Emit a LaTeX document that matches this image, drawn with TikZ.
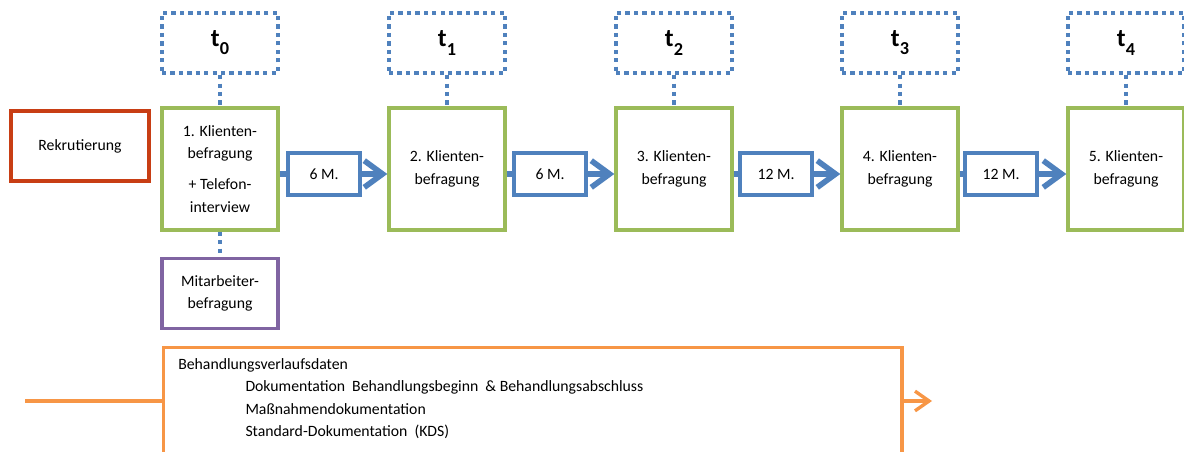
\documentclass[tikz,border=0pt]{standalone}
\usepackage{fontspec}
\setmainfont{Carlito}
\usepackage{tikz}
\usetikzlibrary{positioning, arrows.meta}

\definecolor{rot}{RGB}{200,62,20}
\definecolor{gruen}{RGB}{155,187,89}
\definecolor{blau}{RGB}{79,129,189}
\definecolor{lila}{RGB}{128,100,162}
\definecolor{orangeton}{RGB}{247,150,70}

\newcommand{\tindex}[1]{t\raisebox{-6pt}{\fontsize{13}{13}\selectfont #1}}

\begin{document}
\begin{tikzpicture}[
    x=0.025cm, y=-0.025cm,
    font=\fontsize{11.2}{16}\selectfont,
    box/.style={rectangle, draw, line width=2.4pt, align=center},
    befragung/.style={box, draw=gruen, minimum width=2.9cm, minimum height=3.05cm},
    zeitpunkt/.style={box, draw=blau, line width=3.2pt, dash pattern=on 3pt off 3pt, minimum width=2.9cm, minimum height=1.5cm, font=\fontsize{18}{20}\selectfont\bfseries},
    abstand/.style={box, draw=blau, minimum width=1.8cm, minimum height=1.05cm},
    punktlinie/.style={draw=blau, line width=3.2pt, dash pattern=on 3pt off 3pt},
    pfeil/.style={draw=blau, line width=4pt},
    verlaufslinie/.style={draw=orangeton, line width=2.4pt}
]
\useasboundingbox (0,0) rectangle (1184,452);

% Rekrutierung
\node[box, draw=rot, line width=3pt, minimum width=3.45cm, minimum height=1.75cm] (rekrutierung) at (80,146) {Rekrutierung};

% Befragungen
\node[befragung] (befragung1) at (220,169) {1. Klienten-\\befragung\\[6pt]+ Telefon-\\interview};
\node[befragung] (befragung2) at (447,169) {2. Klienten-\\befragung};
\node[befragung] (befragung3) at (674,169) {3. Klienten-\\befragung};
\node[befragung] (befragung4) at (900,169) {4. Klienten-\\befragung};
\node[befragung] (befragung5) at (1126,169) {5. Klienten-\\befragung};

% Zeitpunkte
\node[zeitpunkt] (t0) [above=0.78cm of befragung1] {\tindex{0}};
\node[zeitpunkt] (t1) [above=0.78cm of befragung2] {\tindex{1}};
\node[zeitpunkt] (t2) [above=0.78cm of befragung3] {\tindex{2}};
\node[zeitpunkt] (t3) [above=0.78cm of befragung4] {\tindex{3}};
\node[zeitpunkt] (t4) [above=0.78cm of befragung5] {\tindex{4}};

\draw[punktlinie] (t0) -- (befragung1);
\draw[punktlinie] (t1) -- (befragung2);
\draw[punktlinie] (t2) -- (befragung3);
\draw[punktlinie] (t3) -- (befragung4);
\draw[punktlinie] (t4) -- (befragung5);

% Mitarbeiterbefragung
\node[box, draw=lila, minimum width=2.9cm, minimum height=1.75cm] (mitarbeiter) [below=0.62cm of befragung1] {Mitarbeiter-\\befragung};
\draw[punktlinie] (befragung1) -- (mitarbeiter);

% Abstaende
\node[abstand] (abstand1) at (324,174) {6 M.};
\node[abstand] (abstand2) at (550,174) {6 M.};
\node[abstand] (abstand3) at (776,174) {12 M.};
\node[abstand] (abstand4) at (1001,174) {12 M.};

\draw[pfeil] (abstand1.west -| befragung1.east) -- (abstand1.west);
\draw[pfeil, -{Straight Barb[length=13pt, width=19pt]}] (abstand1.east) -- (abstand1.east -| befragung2.west);
\draw[pfeil] (abstand2.west -| befragung2.east) -- (abstand2.west);
\draw[pfeil, -{Straight Barb[length=13pt, width=19pt]}] (abstand2.east) -- (abstand2.east -| befragung3.west);
\draw[pfeil] (abstand3.west -| befragung3.east) -- (abstand3.west);
\draw[pfeil, -{Straight Barb[length=13pt, width=19pt]}] (abstand3.east) -- (abstand3.east -| befragung4.west);
\draw[pfeil] (abstand4.west -| befragung4.east) -- (abstand4.west);
\draw[pfeil, -{Straight Barb[length=13pt, width=19pt]}] (abstand4.east) -- (abstand4.east -| befragung5.west);

% Behandlungsverlaufsdaten
\node[box, draw=orangeton, anchor=north west, minimum width=18.45cm, minimum height=4cm] (verlauf) at (162,346) {};
\node[below right=0.3cm and 0.4cm of verlauf.north west, align=left, inner sep=0pt] (verlaufstext) {Behandlungsverlaufsdaten\\
    \hspace*{1.68cm}Dokumentation\ \ Behandlungsbeginn\ \ \& Behandlungsabschluss\\
    \hspace*{1.68cm}Maßnahmendokumentation\\
    \hspace*{1.68cm}Standard-Dokumentation\ \ (KDS)};

\coordinate (verlaufsstart) at (25,401);
\coordinate (verlaufsende) at (932,401);
\draw[verlaufslinie] (verlaufsstart) -- (verlaufsstart -| verlauf.west);
\draw[verlaufslinie, -{Straight Barb[length=10pt, width=14pt]}] (verlaufsende -| verlauf.east) -- (verlaufsende);

\end{tikzpicture}
\end{document}
